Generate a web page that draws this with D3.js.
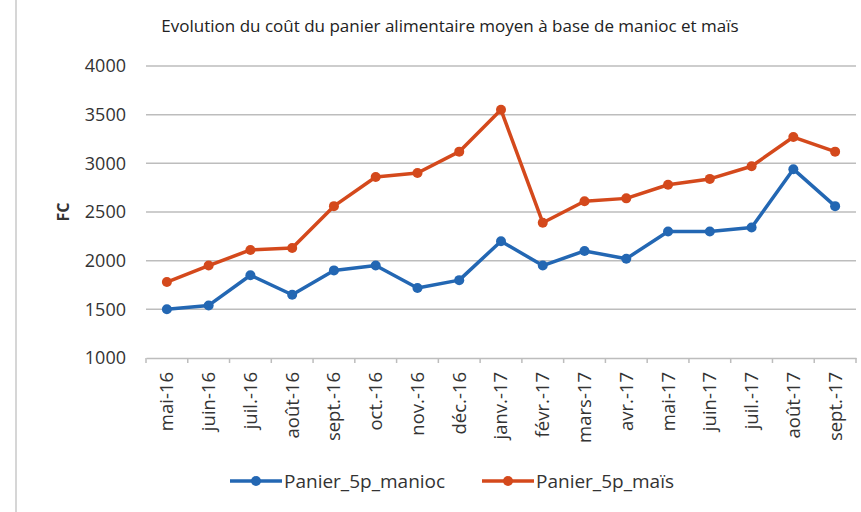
<!DOCTYPE html>
<html>
<head>
<meta charset="utf-8">
<script src="https://cdn.jsdelivr.net/npm/d3@7"></script>
<style>
  body { margin: 0; background: #fff; }
  svg { font-family: "Open Sans", sans-serif; }
</style>
</head>
<body>
<div id="chart"></div>
<script>
// data
var months = ['mai-16', 'juin-16', 'juil.-16', 'août-16', 'sept.-16', 'oct.-16', 'nov.-16', 'déc.-16',
              'janv.-17', 'févr.-17', 'mars-17', 'avr.-17', 'mai-17', 'juin-17', 'juil.-17', 'août-17', 'sept.-17'];
var manioc = [1500, 1540, 1850, 1650, 1900, 1950, 1720, 1800, 2200, 1950, 2100, 2020, 2300, 2300, 2340, 2940, 2560];
var mais   = [1780, 1950, 2110, 2130, 2560, 2860, 2900, 3120, 3550, 2390, 2610, 2640, 2780, 2840, 2970, 3270, 3120];
var yTicks = [1000, 1500, 2000, 2500, 3000, 3500, 4000];

var seriesNames = ['Panier_5p_manioc', 'Panier_5p_maïs'];
var colors = ['#2367b3', '#d4491c'];

(function(){
  var W = 861, H = 512;
  var plotL = 146, plotR = 856, plotT = 66, plotB = 358;

  var svg = d3.select('#chart').append('svg')
    .attr('width', W)
    .attr('height', H);

  // faint frame edge on the left
  svg.append('line')
    .attr('x1', 16).attr('x2', 16)
    .attr('y1', 0).attr('y2', H)
    .attr('stroke', '#c8c8c8')
    .attr('stroke-width', 1.5);

  var x = d3.scaleBand().domain(months).range([plotL, plotR]);
  var y = d3.scaleLinear().domain([1000, 4000]).range([plotB, plotT]);

  // title
  svg.append('text')
    .attr('x', 450).attr('y', 32)
    .attr('text-anchor', 'middle')
    .attr('font-size', 17)
    .attr('fill', '#222')
    .text('Evolution du coût du panier alimentaire moyen à base de manioc et maïs');

  // grid
  svg.append('g').selectAll('line')
    .data(yTicks.filter(function(d){ return d > 1000; }))
    .enter().append('line')
    .attr('x1', plotL).attr('x2', plotR)
    .attr('y1', function(d){ return y(d); })
    .attr('y2', function(d){ return y(d); })
    .attr('stroke', '#bdbdbd')
    .attr('stroke-width', 1.5);

  // y axis labels
  var yAxis = svg.append('g')
    .attr('transform', 'translate(' + (plotL - 20) + ',0)')
    .call(d3.axisLeft(y).tickValues(yTicks).tickFormat(d3.format('d')).tickSize(0).tickPadding(0));
  yAxis.select('.domain').remove();
  yAxis.selectAll('text')
    .attr('font-size', 18)
    .attr('font-family', '"Open Sans", sans-serif')
    .attr('fill', '#333');

  svg.append('text')
    .attr('transform', 'translate(63,' + y(2500) + ') rotate(-90)')
    .attr('text-anchor', 'middle')
    .attr('dy', '0.35em')
    .attr('font-size', 16)
    .attr('font-weight', 'bold')
    .attr('fill', '#333')
    .text('FC');

  // x axis
  var xAxis = svg.append('g')
    .attr('transform', 'translate(0,' + plotB + ')')
    .call(d3.axisBottom(x).tickSize(0).tickPadding(0));
  xAxis.select('.domain').attr('stroke', '#bdbdbd').attr('stroke-width', 1.5);
  xAxis.selectAll('text')
    .attr('font-size', 18.5)
    .attr('font-family', '"Open Sans", sans-serif')
    .attr('fill', '#333')
    .attr('text-anchor', 'end')
    .attr('dy', '0.35em')
    .attr('transform', 'translate(0,14) rotate(-90)');

  // tick marks between categories
  svg.append('g').selectAll('line')
    .data(d3.range(months.length + 1))
    .enter().append('line')
    .attr('x1', function(i){ return plotL + i * x.step(); })
    .attr('x2', function(i){ return plotL + i * x.step(); })
    .attr('y1', plotB).attr('y2', plotB + 5)
    .attr('stroke', '#bdbdbd')
    .attr('stroke-width', 1.5);

  // lines
  var line = d3.line()
    .x(function(d, i){ return x(months[i]) + x.bandwidth() / 2; })
    .y(function(d){ return y(d); });

  [manioc, mais].forEach(function(vals, k){
    svg.append('path')
      .datum(vals)
      .attr('d', line)
      .attr('fill', 'none')
      .attr('stroke', colors[k])
      .attr('stroke-width', 3.5)
      .attr('stroke-linejoin', 'round');
    svg.append('g').selectAll('circle')
      .data(vals)
      .enter().append('circle')
      .attr('cx', function(d, i){ return x(months[i]) + x.bandwidth() / 2; })
      .attr('cy', function(d){ return y(d); })
      .attr('r', 5)
      .attr('fill', colors[k]);
  });

  // legend
  var legendX = [230, 482];
  var legend = svg.append('g').selectAll('g')
    .data(seriesNames)
    .enter().append('g')
    .attr('transform', function(d, i){ return 'translate(' + legendX[i] + ',481)'; });
  legend.append('line')
    .attr('x1', 0).attr('x2', 52)
    .attr('stroke', function(d, i){ return colors[i]; })
    .attr('stroke-width', 3.5);
  legend.append('circle')
    .attr('cx', 26).attr('r', 5)
    .attr('fill', function(d, i){ return colors[i]; });
  legend.append('text')
    .attr('x', 54).attr('dy', '0.35em')
    .attr('font-size', 19)
    .attr('fill', '#333')
    .text(function(d){ return d; });
})();
</script>
</body>
</html>
